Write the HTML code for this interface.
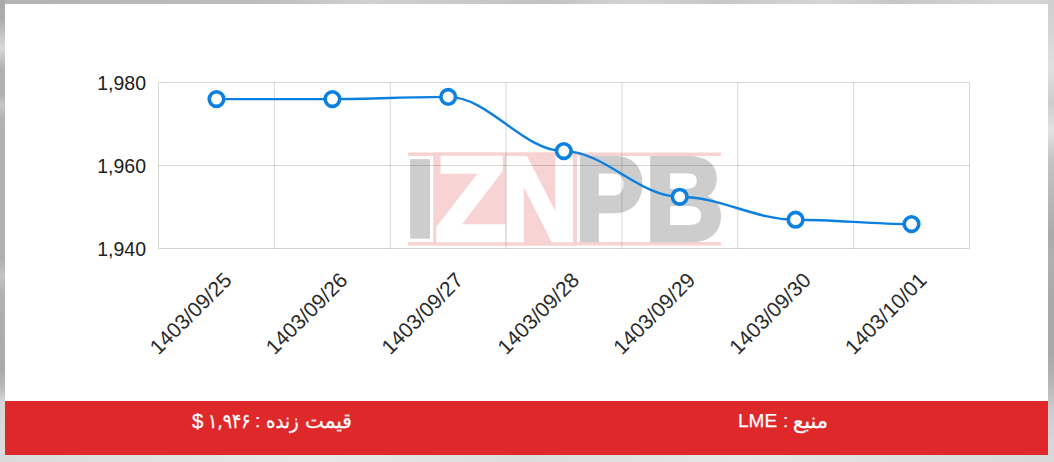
<!DOCTYPE html>
<html><head><meta charset="utf-8"><style>
html,body{margin:0;padding:0;}
body{width:1054px;height:462px;overflow:hidden;position:relative;
background:linear-gradient(90deg,#b4b4b4 0%,#bdbdbd 25%,#d0d0d0 35%,#c2c2c2 52%,#d4d4d4 60%,#c6c6c6 68%,#d6d6d6 78%,#c6c6c6 85%,#d6d6d6 95%,#d4d4d4 100%);}
.lb{position:absolute;left:0;top:0;width:5px;height:462px;background:linear-gradient(180deg,#aaa 0px,#acacac 18px,#bababa 28px,#d8d8d8 48px,#c0c0c0 60px,#b0b0b0 70px,#b0b0b0 95px,#c8c8c8 105px,#b2b2b2 118px,#b0b0b0 260px,#c4c4c4 276px,#b2b2b2 292px,#adadad 340px,#aaa 370px,#bcbcbc 388px,#d4d4d4 400px,#dadada 430px,#dcdcdc 462px);}
.rb{position:absolute;right:0;top:0;width:6px;height:462px;background:linear-gradient(180deg,#cfcfcf 0px,#d4d4d4 30px,#e0e0e0 68px,#cccccc 102px,#e2e2e2 130px,#c2c2c2 162px,#b8b8b8 200px,#aaaaaa 235px,#b0b0b0 260px,#a8a8a8 300px,#a8a8a8 350px,#b4b4b4 380px,#cccccc 410px,#d6d6d6 440px,#d8d8d8 462px);}
.bb{position:absolute;left:0;bottom:0;width:1054px;height:7px;background:linear-gradient(90deg,#dadada 0%,#e8e8e8 30%,#dcdcdc 50%,#e6e6e6 70%,#d8d8d8 100%);}
.panel{position:absolute;left:5px;top:4px;width:1043px;height:451px;background:#fff;}
.foot{position:absolute;left:5px;top:401px;width:1043px;height:54px;background:#de282a;color:#fff;
font-family:"Liberation Sans","DejaVu Sans",sans-serif;font-size:19px;}
.foot span{position:absolute;top:8px;white-space:nowrap;line-height:24px;}
.foot .ar{direction:rtl;font-family:"DejaVu Sans",sans-serif;font-size:20px;-webkit-text-stroke:0.3px #fff;transform-origin:0 50%;}
.foot .la{font-family:"Liberation Sans",sans-serif;font-size:19px;-webkit-text-stroke:0.25px #fff;}
svg{position:absolute;left:0;top:0;}
</style></head><body>
<div class="lb"></div><div class="rb"></div><div class="bb"></div>
<div class="panel"></div>
<svg width="1054" height="462" viewBox="0 0 1054 462">
<g id="wm">
<rect x="408" y="152.5" width="313" height="3.5" fill="#f7d3d3"/>
<rect x="408" y="242" width="313" height="3.5" fill="#f7d3d3"/>
<rect x="433.2" y="152.5" width="143.8" height="93" fill="#f7d3d3"/>

<rect x="410.2" y="159.1" width="19.8" height="79.5" fill="#cdcdcd"/>
<g font-family="Liberation Sans" font-weight="bold" font-size="119" stroke-linejoin="miter">
<text x="435" y="239.6" fill="#fff" stroke="#fff" stroke-width="4.5" textLength="71.6" lengthAdjust="spacingAndGlyphs">Z</text>
<text x="501.1" y="239.6" fill="#fff" stroke="#fff" stroke-width="4.5" textLength="77.2" lengthAdjust="spacingAndGlyphs">N</text>
<text x="575" y="239.6" fill="#cdcdcd" stroke="#cdcdcd" stroke-width="4.5" textLength="69" lengthAdjust="spacingAndGlyphs">P</text>
<text x="645" y="239.6" fill="#cdcdcd" stroke="#cdcdcd" stroke-width="4.5" textLength="79" lengthAdjust="spacingAndGlyphs">B</text>
</g>
</g>
<g stroke="rgba(0,0,0,0.16)" stroke-width="1" fill="none"><line x1="158.5" y1="82.5" x2="158.5" y2="248.5"/><line x1="274.4" y1="82.5" x2="274.4" y2="248.5"/><line x1="390.2" y1="82.5" x2="390.2" y2="248.5"/><line x1="506.1" y1="82.5" x2="506.1" y2="248.5"/><line x1="621.9" y1="82.5" x2="621.9" y2="248.5"/><line x1="737.8" y1="82.5" x2="737.8" y2="248.5"/><line x1="853.6" y1="82.5" x2="853.6" y2="248.5"/><line x1="969.5" y1="82.5" x2="969.5" y2="248.5"/><line x1="158.5" y1="82.5" x2="969.5" y2="82.5"/><line x1="158.5" y1="165.5" x2="969.5" y2="165.5"/><line x1="158.5" y1="248.5" x2="969.5" y2="248.5"/></g>
<g font-family="Liberation Sans" font-size="19.5" fill="#202020"><text x="146" y="89.5" text-anchor="end">1,980</text><text x="146" y="172.5" text-anchor="end">1,960</text><text x="146" y="255.5" text-anchor="end">1,940</text></g>
<g font-family="Liberation Sans" font-size="21" fill="#2a2a2a"><text transform="translate(232.9,281.5) rotate(-45)" text-anchor="end">1403/09/25</text><text transform="translate(348.8,281.5) rotate(-45)" text-anchor="end">1403/09/26</text><text transform="translate(464.6,281.5) rotate(-45)" text-anchor="end">1403/09/27</text><text transform="translate(580.5,281.5) rotate(-45)" text-anchor="end">1403/09/28</text><text transform="translate(696.4,281.5) rotate(-45)" text-anchor="end">1403/09/29</text><text transform="translate(812.2,281.5) rotate(-45)" text-anchor="end">1403/09/30</text><text transform="translate(928.1,281.5) rotate(-45)" text-anchor="end">1403/10/01</text></g>
<path d="M216.5,99.1 C257.1,99.1 291.8,99.1 332.4,99.1 C372.9,99.1 407.7,96.9 448.2,96.9 C488.7,96.9 523.3,151.1 563.8,151.1 C604.4,151.1 639.1,196.8 679.7,196.8 C720.3,196.8 755.0,219.7 795.6,219.7 C836.2,219.7 870.9,224.1 911.5,224.1" fill="none" stroke="#0b80df" stroke-width="2.4"/>
<g fill="#fff" stroke="#0b80df" stroke-width="3.6"><circle cx="216.5" cy="99.1" r="7.3"/><circle cx="332.4" cy="99.1" r="7.3"/><circle cx="448.2" cy="96.9" r="7.3"/><circle cx="563.8" cy="151.1" r="7.3"/><circle cx="679.7" cy="196.8" r="7.3"/><circle cx="795.6" cy="219.7" r="7.3"/><circle cx="911.5" cy="224.1" r="7.3"/></g>
</svg>
<div class="foot">
<span class="ar" style="left:300px;transform:scaleX(1.0)">قیمت</span>
<span class="ar" style="left:261px;transform:scaleX(0.9)">زنده</span>
<span class="la" style="left:250px">:</span>
<span class="ar" style="left:202.5px;transform:scaleX(0.86)">۱,۹۴۶</span>
<span class="la" style="left:187px;font-size:20.5px;top:7.5px">$</span>
<span class="ar" style="left:788px;transform:scaleX(1.05)">منبع</span>
<span class="la" style="left:778px">:</span>
<span class="la" style="left:733px">LME</span>
</div>
</body></html>
